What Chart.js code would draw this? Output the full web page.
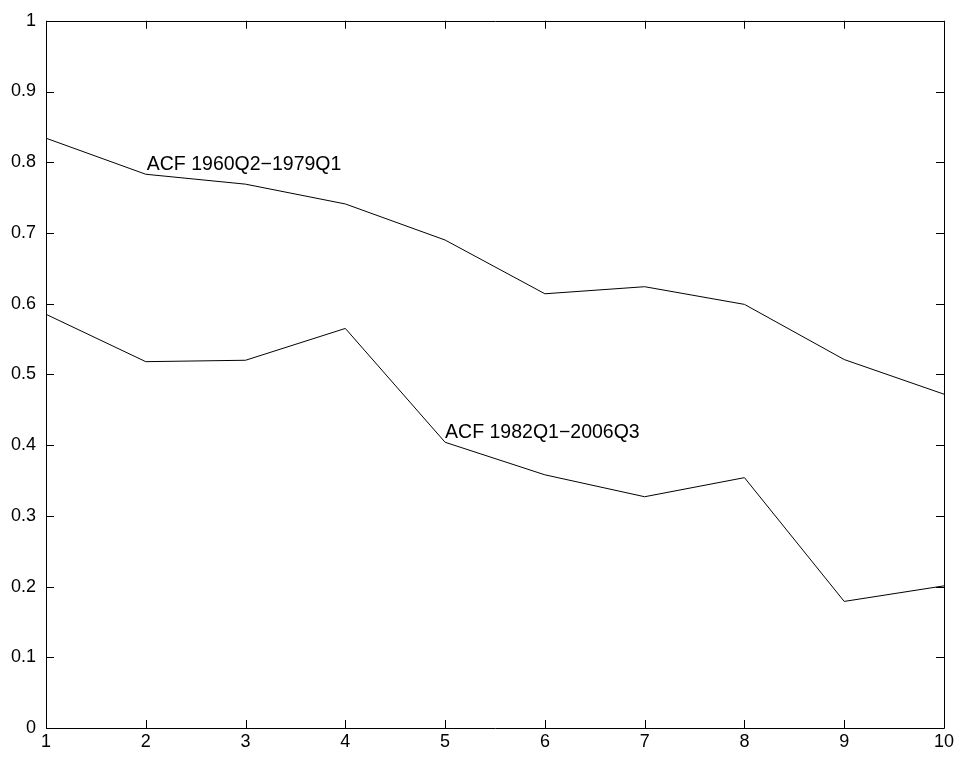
<!DOCTYPE html>
<html>
<head>
<meta charset="utf-8">
<script src="https://cdn.jsdelivr.net/npm/chart.js@4/dist/chart.umd.min.js"></script>
<style>
  html, body { margin: 0; padding: 0; background: #fff; }
  #wrap { width: 962px; height: 760px; position: relative; }
</style>
</head>
<body>
<div id="wrap"><canvas id="acf"></canvas></div>
<script>
// lags on the x axis
const lags = [1, 2, 3, 4, 5, 6, 7, 8, 9, 10];
// autocorrelation, early sample
const acfEarly = [0.834, 0.783, 0.769, 0.741, 0.690, 0.614, 0.624, 0.599, 0.521, 0.472];
// autocorrelation, late sample
const acfLate = [0.585, 0.518, 0.520, 0.565, 0.404, 0.358, 0.327, 0.354, 0.179, 0.201];
const labelEarly = 'ACF 1960Q2\u22121979Q1';
const labelLate = 'ACF 1982Q1\u22122006Q3';

const FONT = '"Liberation Sans", Arial, Helvetica, sans-serif';

function points(ys) {
    return lags.map((x, i) => ({ x: x, y: ys[i] }));
}

// box, inward ticks and the two text notes
const frame = {
    id: 'frame',
    afterDraw(chart) {
        const ctx = chart.ctx;
        const a = chart.chartArea;
        const xs = chart.scales.x, ys = chart.scales.y;
        const len = 8;
        ctx.save();
        ctx.strokeStyle = '#000';
        ctx.lineWidth = 1;
        ctx.beginPath();
        ctx.rect(Math.round(a.left) + 0.5, Math.round(a.top) + 0.5,
                 Math.round(a.right - a.left), Math.round(a.bottom - a.top));
        xs.ticks.forEach(t => {
            const px = Math.round(xs.getPixelForValue(t.value)) + 0.5;
            ctx.moveTo(px, a.bottom); ctx.lineTo(px, a.bottom - len);
            ctx.moveTo(px, a.top); ctx.lineTo(px, a.top + len);
        });
        ys.ticks.forEach(t => {
            const py = Math.round(ys.getPixelForValue(t.value)) + 0.5;
            ctx.moveTo(a.left, py); ctx.lineTo(a.left + len, py);
            ctx.moveTo(a.right, py); ctx.lineTo(a.right - len, py);
        });
        ctx.stroke();

        ctx.fillStyle = '#000';
        ctx.font = '19.5px ' + FONT;
        ctx.textBaseline = 'alphabetic';
        ctx.textAlign = 'left';
        ctx.fillText(labelEarly, xs.getPixelForValue(2) + 1, ys.getPixelForValue(0.789));
        ctx.fillText(labelLate, xs.getPixelForValue(5) + 0, ys.getPixelForValue(0.410));
        ctx.restore();
    }
};

new Chart(document.getElementById('acf').getContext('2d'), {
    type: 'line',
    data: {
        datasets: [
            {
                label: labelEarly,
                data: points(acfEarly),
                borderColor: '#000',
                borderWidth: 1,
                pointRadius: 0,
                tension: 0,
                fill: false
            },
            {
                label: labelLate,
                data: points(acfLate),
                borderColor: '#000',
                borderWidth: 1,
                pointRadius: 0,
                tension: 0,
                fill: false
            }
        ]
    },
    options: {
        responsive: true,
        maintainAspectRatio: false,
        animation: false,
        layout: { padding: { top: 18, right: 18, left: 0, bottom: 0 } },
        plugins: {
            legend: { display: false },
            tooltip: { enabled: false }
        },
        scales: {
            x: {
                type: 'linear',
                min: 1,
                max: 10,
                grid: { display: false, drawTicks: false },
                border: { display: false },
                ticks: {
                    stepSize: 1,
                    color: '#000',
                    font: { family: FONT, size: 18 },
                    padding: 3,
                    maxRotation: 0
                },
                afterFit(scale) { scale.height = 32; }
            },
            y: {
                min: 0,
                max: 1,
                grid: { display: false, drawTicks: false },
                border: { display: false },
                ticks: {
                    stepSize: 0.1,
                    color: '#000',
                    font: { family: FONT, size: 18 },
                    padding: 10,
                    callback: v => String(Number(v.toFixed(1)))
                },
                afterFit(scale) { scale.width = 46; }
            }
        }
    },
    plugins: [frame]
});
</script>
</body>
</html>
